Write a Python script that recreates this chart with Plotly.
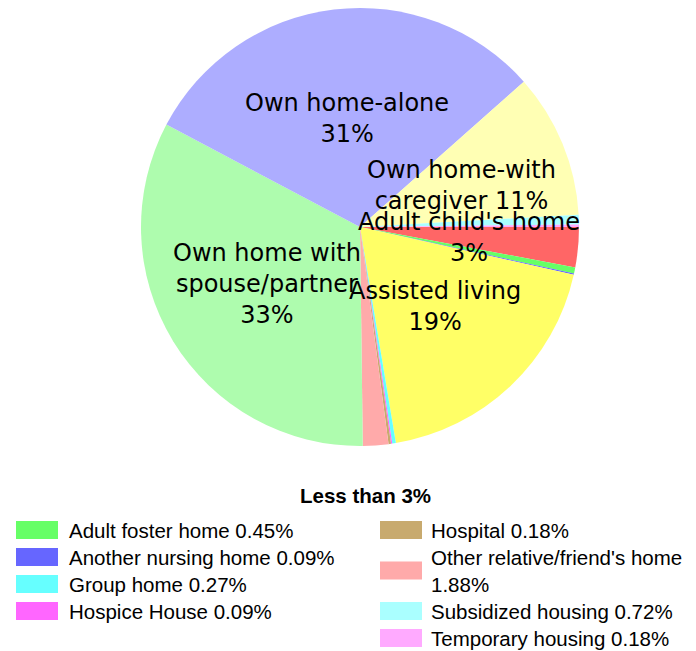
import math
import plotly.graph_objects as go

# ---- data (counts; shares match the printed %) ----
categories = [
    "Adult child's home", "Adult foster home", "Another nursing home",
    "Assisted living", "Group home", "Hospice House", "Hospital",
    "Other relative/friend's home", "Own home with spouse/partner",
    "Own home-alone", "Own home-with caregiver", "Subsidized housing",
    "Temporary housing",
]
counts = [33, 5, 1, 211, 3, 1, 2, 21, 368, 343, 119, 8, 2]
colors = [
    "#ff6666", "#66ff66", "#6666ff", "#ffff66", "#66ffff", "#ff66ff",
    "#c8aa6e", "#ffaaaa", "#aefcae", "#adadff", "#ffffb4", "#aaffff",
    "#ffaaff",
]
# wrapped labels for the slices that are printed on the pie
pie_label_lines = {
    "Adult child's home": ["Adult child's home"],
    "Assisted living": ["Assisted living"],
    "Own home with spouse/partner": ["Own home with", "spouse/partner"],
    "Own home-alone": ["Own home-alone"],
    "Own home-with caregiver": ["Own home-with", "caregiver"],
}
legend_title = "Less than 3%"
legend_col1 = ["Adult foster home", "Another nursing home", "Group home", "Hospice House"]
legend_col2 = ["Hospital", "Other relative/friend's home", "Subsidized housing", "Temporary housing"]
legend_col2_lines = {"Other relative/friend's home": 2}

OFF = 8                      # page body margin
W, H = 696 - OFF, 651 - OFF  # figure size
CX, CY, R = 360, 227, 219    # pie centre / radius in window pixels
START = 90                   # first slice starts at 3 o'clock

total = sum(counts)
shares = [c / total * 100 for c in counts]


def px2paper(x, y):
    return (x - OFF) / W, 1 - (y - OFF) / H


dx0, dy0 = px2paper(CX - R, CY + R)
dx1, dy1 = px2paper(CX + R, CY - R)
fig = go.Figure(go.Pie(
    labels=categories, values=counts, sort=False, direction="clockwise",
    rotation=START, marker=dict(colors=colors, line=dict(width=0)),
    textinfo="none", showlegend=False,
    domain=dict(x=[max(0, dx0), min(1, dx1)], y=[max(0, dy0), min(1, dy1)]),
))

annotations = []
shapes = []

# slice labels placed at half radius along each slice's mid angle
cum = 0.0
for cat, s in zip(categories, shares):
    mid = START + (cum + s / 2) / 100 * 360
    cum += s
    if cat not in pie_label_lines:
        continue
    lines = list(pie_label_lines[cat])
    pct = f"{round(s)}%"
    if cat == "Own home-with caregiver":
        lines[-1] = lines[-1] + " " + pct
    else:
        lines.append(pct)
    a = math.radians(mid)
    r = 0.5 * R
    x, y = px2paper(CX + r * math.sin(a), CY - r * math.cos(a))
    annotations.append(dict(
        x=x, y=y, xref="paper", yref="paper", text="<br>".join(lines),
        showarrow=False, xanchor="center", yanchor="middle",
        font=dict(family="DejaVu Sans", size=24, color="black"),
    ))

# custom two-column legend for the small slices
x, y = px2paper(365, 495)
annotations.append(dict(x=x, y=y, xref="paper", yref="paper",
                        text=f"<b>{legend_title}</b>", showarrow=False,
                        xanchor="center", yanchor="middle",
                        font=dict(family="Liberation Sans, Arial", size=20.5, color="black")))


def legend_item(cat, sx, tx, yc):
    s = shares[categories.index(cat)]
    col = colors[categories.index(cat)]
    x0, y0 = px2paper(sx, yc - 9)
    x1, y1 = px2paper(sx + 42, yc + 9)
    shapes.append(dict(type="rect", xref="paper", yref="paper", x0=x0, x1=x1,
                       y0=y1, y1=y0, fillcolor=col, line=dict(width=0)))
    text = f"{cat} {s:.2f}%"
    if cat in legend_col2_lines:
        text = f"{cat}<br>{s:.2f}%"
    tx_, ty_ = px2paper(tx, yc)
    annotations.append(dict(x=tx_, y=ty_, xref="paper", yref="paper", text=text,
                            showarrow=False, xanchor="left", yanchor="middle",
                            align="left",
                            font=dict(family="Liberation Sans, Arial", size=20.5, color="black")))


row_h = 27
y_first = 530
for i, cat in enumerate(legend_col1):
    legend_item(cat, 16, 67, y_first + i * row_h)
row = 0
for cat in legend_col2:
    n = legend_col2_lines.get(cat, 1)
    legend_item(cat, 380, 429, y_first + (row + (n - 1) / 2) * row_h)
    row += n

fig.update_layout(
    width=W, height=H, margin=dict(l=0, r=0, t=0, b=0),
    paper_bgcolor="white", plot_bgcolor="white",
    annotations=annotations, shapes=shapes,
)
fig.write_html("out.html")
